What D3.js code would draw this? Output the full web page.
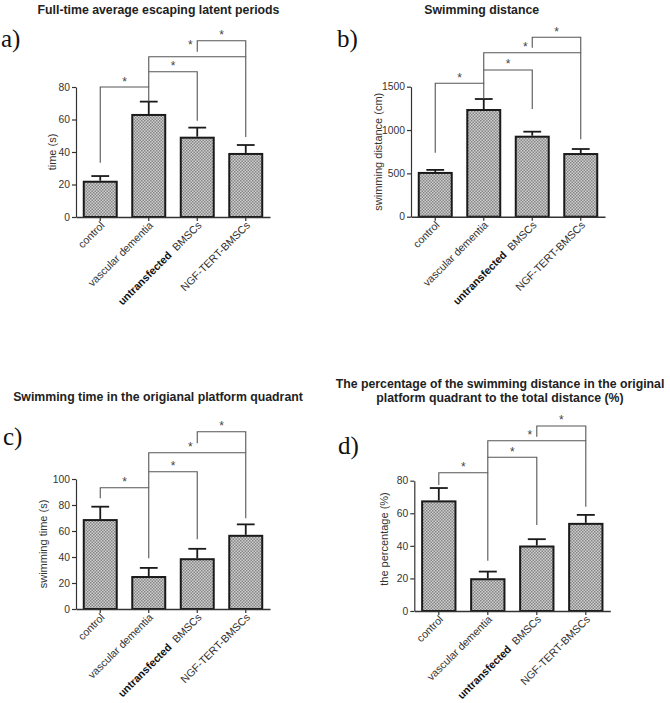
<!DOCTYPE html>
<html><head><meta charset="utf-8">
<script src="https://cdn.jsdelivr.net/npm/d3@7"></script>
<style>
body{margin:0;background:#fff;}
svg{display:block;font-family:"Liberation Sans",Arial,sans-serif;}
</style></head>
<body><svg id="c" width="670" height="703"></svg>
<script>
// ---- data ----
const categories = ["control", "vascular dementia", "untransfected BMSCs", "NGF-TERT-BMSCs"];

const latencyMean = [21.7, 62.8, 48.8, 38.8];
const latencySem  = [3.5, 8.2, 6.2, 5.5];
const latencyTicks = [0, 20, 40, 60, 80];

const distanceMean = [505, 1231, 923, 723];
const distanceSem  = [35, 127, 58, 58];
const distanceTicks = [0, 500, 1000, 1500];

const quadTimeMean = [68.4, 24.6, 38.3, 56.3];
const quadTimeSem  = [10.3, 7.0, 8.0, 8.8];
const quadTimeTicks = [0, 20, 40, 60, 80, 100];

const pctMean = [67.3, 19.5, 39.6, 53.5];
const pctSem  = [8.2, 4.7, 4.5, 5.5];
const pctTicks = [0, 20, 40, 60, 80];

// significance brackets: [from, to, level, leftLegBottom, rightLegBottom] (data units)
const latencyBrackets  = [[0,1,80,33.4,71],[1,2,89.4,80,59.3],[1,3,98.6,89.4,49.2],[2,3,108.5,101.7,98.6]];
const distanceBrackets = [[0,1,1539,738,1358],[1,2,1693,1539,1243],[1,3,1892,1693,893],[2,3,2070,1950,1892]];
const quadTimeBrackets = [[0,1,93.3,85.2,39],[1,2,105.6,93.3,53.6],[1,3,120.2,105.6,69.8],[2,3,136.4,127.5,120.2]];
const pctBrackets      = [[0,1,84.9,77.3,30.9],[1,2,94.4,84.9,52.8],[1,3,104.5,94.4,64],[2,3,113.6,107,104.5]];

// ---- layout ----
const panels = [
  {mean: latencyMean, sem: latencySem, ticks: latencyTicks, brackets: latencyBrackets,
   x0: 76, x1: 270, y0: 217, y1: 87, title: ["Full-time average escaping latent periods"],
   tx: 158.5, ty: 14, label: "a)", lx: 1, ly: 47, ylab: "time (s)", ylx: 52, starUp: [0,0,6,0]},
  {mean: distanceMean, sem: distanceSem, ticks: distanceTicks, brackets: distanceBrackets,
   x0: 411, x1: 605, y0: 216.7, y1: 86.7, title: ["Swimming distance"],
   tx: 481.7, ty: 14, label: "b)", lx: 337, ly: 47, ylab: "swimming distance (cm)", ylx: 377.7, starUp: [0,0,0,0]},
  {mean: quadTimeMean, sem: quadTimeSem, ticks: quadTimeTicks, brackets: quadTimeBrackets,
   x0: 76, x1: 270, y0: 609, y1: 479, title: ["Swimming time in the origianal platform quadrant"],
   tx: 158, ty: 401, label: "c)", lx: 3, ly: 445, ylab: "swimming time (s)", ylx: 42.7, starUp: [0,0,0,0]},
  {mean: pctMean, sem: pctSem, ticks: pctTicks, brackets: pctBrackets,
   x0: 414.3, x1: 610.3, y0: 611, y1: 480.7,
   title: ["The percentage of the swimming distance in the original", "platform quadrant to the total distance (%)"],
   tx: 500, ty: 387.7, label: "d)", lx: 338, ly: 454, ylab: "the percentage (%)", ylx: 384.3, ylc: 539, starUp: [0,0,0,0]}
];
const starFrac = [0.5, 0.5, 0.43, 0.5];

const svg = d3.select("#c");
const defs = svg.append("defs");
const pat = defs.append("pattern").attr("id","chk").attr("patternUnits","userSpaceOnUse")
  .attr("width",3).attr("height",3);
pat.append("rect").attr("width",3).attr("height",3).attr("fill","#cfcfcf");
pat.append("rect").attr("x",0).attr("y",0).attr("width",1.5).attr("height",1.5).attr("fill","#858585");
pat.append("rect").attr("x",1.5).attr("y",1.5).attr("width",1.5).attr("height",1.5).attr("fill","#858585");

panels.forEach(p => {
  const g = svg.append("g");
  const x = d3.scaleBand().domain(categories).range([p.x0, p.x1]).paddingInner(0.32).paddingOuter(0.16);
  const ymax = p.ticks[p.ticks.length-1];
  const y = d3.scaleLinear().domain([0, ymax]).range([p.y0, p.y1]);

  // title
  const t = g.append("text").attr("x", p.tx).attr("y", p.ty).attr("text-anchor","middle")
    .attr("font-weight","bold").attr("font-size","12.3px").attr("fill","#222");
  p.title.forEach((s,i) => t.append("tspan").attr("x", p.tx).attr("dy", i ? 14.3 : 0).text(s));

  // panel letter
  g.append("text").attr("x", p.lx).attr("y", p.ly).attr("font-family","'Liberation Serif','Times New Roman',serif")
    .attr("font-size","25px").attr("fill","#111").text(p.label);

  // bars
  g.selectAll("rect.bar").data(p.mean).join("rect").attr("class","bar")
    .attr("x",(d,i)=>x(categories[i])).attr("width",x.bandwidth())
    .attr("y",d=>y(d)).attr("height",d=>y(0)-y(d))
    .attr("fill","url(#chk)").attr("stroke","#1a1a1a").attr("stroke-width",2);

  // error bars
  const cx = i => x(categories[i]) + x.bandwidth()/2;
  const capW = x.bandwidth()*0.27;
  p.mean.forEach((m,i) => {
    const top = y(m + p.sem[i]);
    g.append("line").attr("x1",cx(i)).attr("x2",cx(i)).attr("y1",y(m)-1).attr("y2",top)
      .attr("stroke","#1a1a1a").attr("stroke-width",1.8);
    g.append("line").attr("x1",cx(i)-capW).attr("x2",cx(i)+capW).attr("y1",top).attr("y2",top)
      .attr("stroke","#1a1a1a").attr("stroke-width",1.8);
  });

  // y axis
  const ya = g.append("g").attr("transform",`translate(${p.x0},0)`)
    .call(d3.axisLeft(y).tickValues(p.ticks).tickSize(4).tickPadding(2).tickSizeOuter(0).tickFormat(d3.format("d")));
  ya.select(".domain").attr("stroke","#333").attr("stroke-width",1.2);
  ya.selectAll(".tick line").attr("stroke","#333").attr("stroke-width",1.2);
  ya.selectAll(".tick text").attr("font-size","10.3px").attr("fill","#333").attr("font-family","'Liberation Sans',Arial,sans-serif");

  // x axis
  const xa = g.append("g").attr("transform",`translate(0,${p.y0})`)
    .call(d3.axisBottom(x).tickSize(4).tickSizeOuter(0).tickFormat(""));
  xa.select(".domain").attr("stroke","#333").attr("stroke-width",1.4);
  xa.selectAll(".tick line").attr("stroke","#333").attr("stroke-width",1.2);

  // x labels
  categories.forEach((c,i) => {
    const tx = g.append("text").attr("text-anchor","end").attr("font-size","10.7px").attr("fill","#333")
      .attr("transform",`translate(${cx(i)+5},${p.y0+9}) rotate(-45)`);
    if (c.startsWith("untransfected")) {
      tx.append("tspan").attr("font-weight","bold").attr("fill","#111").text("untransfected");
      tx.append("tspan").text("\u00a0\u00a0" + c.replace("untransfected ",""));
    } else tx.text(c);
  });

  // y label
  const ylc = p.ylc !== undefined ? p.ylc : (p.y0 + p.y1)/2;
  g.append("text").attr("text-anchor","middle").attr("font-size","11px").attr("fill","#333")
    .attr("transform",`translate(${p.ylx},${ylc}) rotate(-90)`).attr("dy","0.35em").text(p.ylab);

  // brackets
  p.brackets.forEach((b,k) => {
    const [i,j,lev,lb,rb] = b;
    const xa_ = cx(i), xb = cx(j), yl = y(lev);
    g.append("path").attr("d",`M${xa_},${y(lb)}V${yl}H${xb}V${y(rb)}`)
      .attr("fill","none").attr("stroke","#555").attr("stroke-width",1.1);
    g.append("text").attr("x", xa_ + (xb - xa_)*starFrac[k]).attr("y", yl - 1.5 - p.starUp[k])
      .attr("text-anchor","middle").attr("font-size","12px").attr("fill","#444").text("*");
  });
});
</script></body></html>
